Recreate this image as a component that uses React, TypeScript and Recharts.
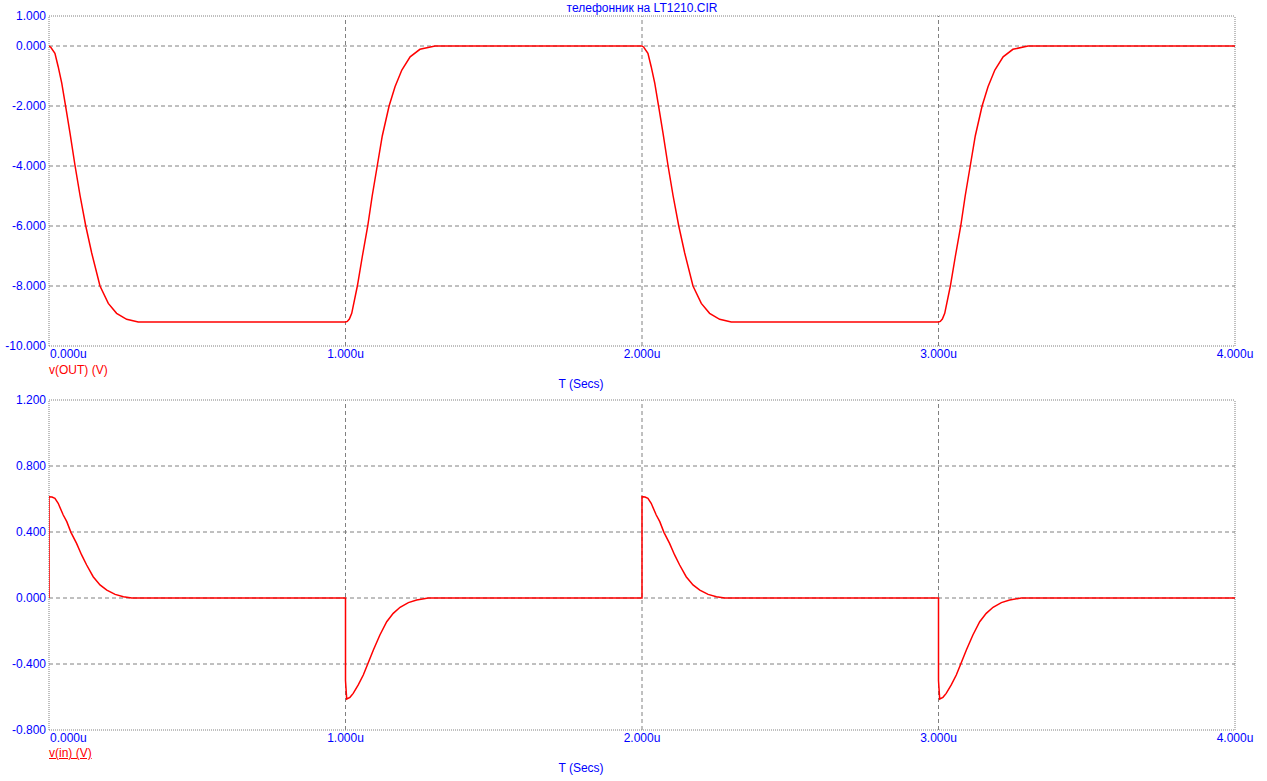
import {
  LineChart,
  Line,
  XAxis,
  YAxis,
  ReferenceLine,
} from "recharts"

// time in microseconds
const timeTicks = [0, 1, 2, 3, 4]
const gridX = [1, 2, 3]

// v(OUT) panel
const outTicks = [1, 0, -2, -4, -6, -8, -10]
const outGrid = [0, -2, -4, -6, -8]
const outTime = [
  0, 0.006, 0.02, 0.031, 0.043, 0.056, 0.071, 0.088, 0.105, 0.124, 0.144,
  0.172, 0.2, 0.228, 0.262, 0.301,
  1.0, 1.006, 1.013, 1.021, 1.04, 1.057, 1.075, 1.09, 1.107, 1.124, 1.147,
  1.167, 1.19, 1.218, 1.251, 1.302,
  2.0, 2.006, 2.02, 2.031, 2.043, 2.056, 2.071, 2.088, 2.105, 2.124, 2.144,
  2.172, 2.2, 2.228, 2.262, 2.301,
  3.0, 3.006, 3.013, 3.021, 3.04, 3.057, 3.075, 3.09, 3.107, 3.124, 3.147,
  3.167, 3.19, 3.218, 3.251, 3.302,
  4.0,
]
const outValue = [
  0, -0.04, -0.24, -0.69, -1.24, -2.0, -2.91, -4.0, -5.0, -6.0, -6.9,
  -8.0, -8.58, -8.91, -9.11, -9.2,
  -9.2, -9.18, -9.1, -8.91, -8.0, -7.0, -6.0, -5.0, -4.0, -3.0, -2.0,
  -1.36, -0.8, -0.36, -0.11, 0,
  0, -0.04, -0.24, -0.69, -1.24, -2.0, -2.91, -4.0, -5.0, -6.0, -6.9,
  -8.0, -8.58, -8.91, -9.11, -9.2,
  -9.2, -9.18, -9.1, -8.91, -8.0, -7.0, -6.0, -5.0, -4.0, -3.0, -2.0,
  -1.36, -0.8, -0.36, -0.11, 0,
  0,
]

// v(in) panel
const inTicks = [1.2, 0.8, 0.4, 0, -0.4, -0.8]
const inGrid = [0.8, 0.4, 0, -0.4]
const inTime = [
  0, 0, 0.01, 0.02, 0.031, 0.048, 0.06, 0.074, 0.093, 0.11, 0.127, 0.149,
  0.172, 0.195, 0.223, 0.251, 0.279,
  1.0, 1.0, 1.004, 1.015, 1.026, 1.043, 1.06, 1.075, 1.094, 1.116, 1.139,
  1.161, 1.184, 1.212, 1.24, 1.279,
  2.0, 2.0, 2.01, 2.02, 2.031, 2.048, 2.06, 2.074, 2.093, 2.11, 2.127, 2.149,
  2.172, 2.195, 2.223, 2.251, 2.279,
  3.0, 3.0, 3.004, 3.015, 3.026, 3.043, 3.06, 3.075, 3.094, 3.116, 3.139,
  3.161, 3.184, 3.212, 3.24, 3.279,
  4.0,
]
const inValue = [
  0, 0.614, 0.612, 0.604, 0.574, 0.503, 0.463, 0.398, 0.331, 0.261, 0.2, 0.129,
  0.079, 0.048, 0.022, 0.008, 0,
  0, -0.5, -0.612, -0.602, -0.578, -0.527, -0.467, -0.4, -0.315, -0.224, -0.144,
  -0.093, -0.056, -0.028, -0.012, 0,
  0, 0.614, 0.612, 0.604, 0.574, 0.503, 0.463, 0.398, 0.331, 0.261, 0.2, 0.129,
  0.079, 0.048, 0.022, 0.008, 0,
  0, -0.5, -0.612, -0.602, -0.578, -0.527, -0.467, -0.4, -0.315, -0.224, -0.144,
  -0.093, -0.056, -0.028, -0.012, 0,
  0,
]

const outData = outTime.map((t, i) => ({ t, v: outValue[i] }))
const inData = inTime.map((t, i) => ({ t, v: inValue[i] }))

const FONT = "'Liberation Sans', Arial, sans-serif"
const BLUE = "#0000ff"
const RED = "#ff0000"
const GRID = "#808080"

function TimeTick(props: any) {
  const { x, y, payload } = props
  const anchor = payload.value === 0 ? "start" : "middle"
  return (
    <text
      x={payload.value === 0 ? x + 1 : x}
      y={y}
      dy="0.71em"
      textAnchor={anchor}
      fill={BLUE}
      fontSize={12}
      fontFamily={FONT}
    >
      {payload.value.toFixed(3) + "u"}
    </text>
  )
}

interface PanelProps {
  data: { t: number; v: number }[]
  yMin: number
  yMax: number
  yTicks: number[]
  yGrid: number[]
}

function Panel({ data, yMin, yMax, yTicks, yGrid }: PanelProps) {
  return (
    <LineChart
      width={1267}
      height={380}
      data={data}
      margin={{ top: 16, right: 32, left: 0, bottom: 0 }}
    >
      <XAxis
        type="number"
        dataKey="t"
        domain={[0, 4]}
        ticks={timeTicks}
        allowDataOverflow
        axisLine={false}
        tickLine={false}
        tickSize={0}
        tickMargin={3}
        height={34}
        interval={0}
        tick={<TimeTick />}
      />
      <YAxis
        type="number"
        dataKey="v"
        domain={[yMin, yMax]}
        ticks={yTicks}
        allowDataOverflow
        axisLine={false}
        tickLine={false}
        tickSize={0}
        tickMargin={3}
        width={49}
        interval={0}
        tickFormatter={(v: number) => v.toFixed(3)}
        tick={{ fill: BLUE, fontSize: 12, fontFamily: FONT }}
      />
      {gridX.map((x) => (
        <ReferenceLine
          key={"gx" + x}
          x={x}
          stroke={GRID}
          strokeDasharray="4 3"
        />
      ))}
      {yGrid.map((y) => (
        <ReferenceLine
          key={"gy" + y}
          y={y}
          stroke={GRID}
          strokeDasharray="4 3"
        />
      ))}
      <ReferenceLine x={0} stroke={GRID} strokeDasharray="1 1" />
      <ReferenceLine x={4} stroke={GRID} strokeDasharray="1 1" />
      <ReferenceLine y={yMin} stroke={GRID} strokeDasharray="1 1" />
      <ReferenceLine y={yMax} stroke={GRID} strokeDasharray="1 1" />
      <Line
        type="linear"
        dataKey="v"
        stroke={RED}
        strokeWidth={1.5}
        dot={false}
        isAnimationActive={false}
      />
    </LineChart>
  )
}

const labelStyle = {
  position: "absolute" as const,
  fontFamily: FONT,
  fontSize: 12,
  lineHeight: "14px",
  whiteSpace: "nowrap" as const,
}

export default function App() {
  return (
    <div
      style={{
        position: "absolute",
        left: 0,
        top: 0,
        width: 1267,
        height: 781,
        background: "#ffffff",
        overflow: "hidden",
      }}
    >
      <div style={{ position: "absolute", left: 0, top: 0 }}>
        <Panel
          data={outData}
          yMin={-10}
          yMax={1}
          yTicks={outTicks}
          yGrid={outGrid}
        />
      </div>
      <div style={{ position: "absolute", left: 0, top: 384 }}>
        <Panel
          data={inData}
          yMin={-0.8}
          yMax={1.2}
          yTicks={inTicks}
          yGrid={inGrid}
        />
      </div>

      <div
        style={{
          ...labelStyle,
          left: 642,
          top: 1,
          transform: "translateX(-50%)",
          color: BLUE,
        }}
      >
        телефонник на LT1210.CIR
      </div>

      <div style={{ ...labelStyle, left: 49, top: 363, color: RED }}>
        v(OUT) (V)
      </div>
      <div
        style={{
          ...labelStyle,
          left: 581,
          top: 377,
          transform: "translateX(-50%)",
          color: BLUE,
        }}
      >
        T (Secs)
      </div>

      <div
        style={{
          ...labelStyle,
          left: 49,
          top: 746,
          color: RED,
          textDecoration: "underline",
        }}
      >
        v(in) (V)
      </div>
      <div
        style={{
          ...labelStyle,
          left: 581,
          top: 761,
          transform: "translateX(-50%)",
          color: BLUE,
        }}
      >
        T (Secs)
      </div>
    </div>
  )
}
